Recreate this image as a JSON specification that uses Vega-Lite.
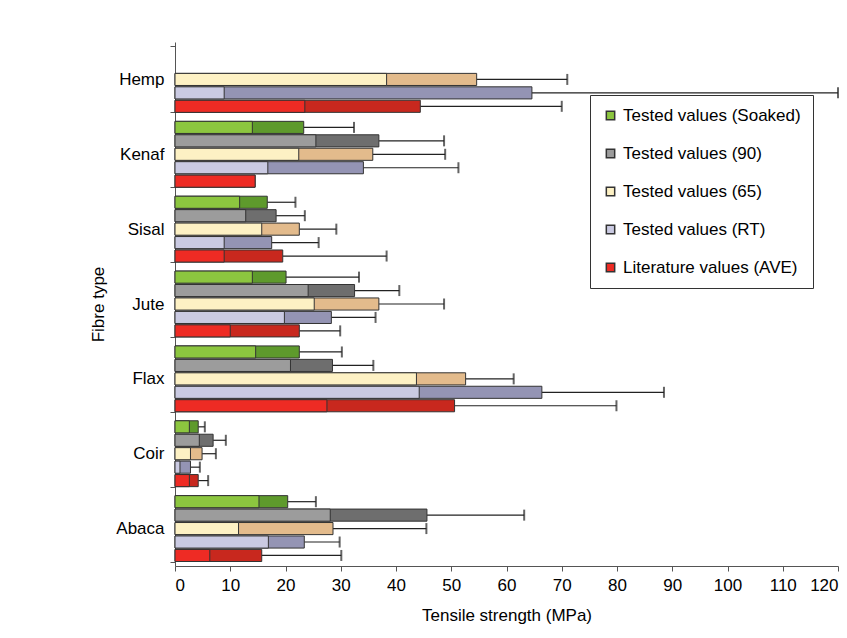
{
  "$schema": "https://vega.github.io/schema/vega-lite/v6.json",
  "width": 663, "height": 524,
  "autosize": "none",
  "padding": {"left": 175, "top": 42, "right": 9, "bottom": 72},
  "background": "white",
  "config": {
    "font": "Liberation Sans",
    "view": {"stroke": null},
    "axis": {"labelFontSize": 17, "titleFontSize": 17, "labelColor": "black", "titleColor": "black", "titleFontWeight": "normal", "domainColor": "#555", "tickColor": "#555", "grid": false}
  },
  "data": {"values": [
    {"fibre": "Hemp", "series": "Tested values (65)", "lo": 38.3, "mean": 54.6, "hi": 71},
    {"fibre": "Hemp", "series": "Tested values (RT)", "lo": 8.9, "mean": 64.6, "hi": 120},
    {"fibre": "Hemp", "series": "Literature values (AVE)", "lo": 23.5, "mean": 44.4, "hi": 70},
    {"fibre": "Kenaf", "series": "Tested values (Soaked)", "lo": 14, "mean": 23.3, "hi": 32.4},
    {"fibre": "Kenaf", "series": "Tested values (90)", "lo": 25.5, "mean": 36.9, "hi": 48.7},
    {"fibre": "Kenaf", "series": "Tested values (65)", "lo": 22.4, "mean": 35.8, "hi": 48.9},
    {"fibre": "Kenaf", "series": "Tested values (RT)", "lo": 16.8, "mean": 34.1, "hi": 51.3},
    {"fibre": "Kenaf", "series": "Literature values (AVE)", "lo": 14.5, "mean": 14.5, "hi": null},
    {"fibre": "Sisal", "series": "Tested values (Soaked)", "lo": 11.7, "mean": 16.7, "hi": 21.8},
    {"fibre": "Sisal", "series": "Tested values (90)", "lo": 12.8, "mean": 18.3, "hi": 23.5},
    {"fibre": "Sisal", "series": "Tested values (65)", "lo": 15.7, "mean": 22.5, "hi": 29.2},
    {"fibre": "Sisal", "series": "Tested values (RT)", "lo": 8.9, "mean": 17.5, "hi": 26},
    {"fibre": "Sisal", "series": "Literature values (AVE)", "lo": 8.9, "mean": 19.5, "hi": 38.3},
    {"fibre": "Jute", "series": "Tested values (Soaked)", "lo": 14, "mean": 20.1, "hi": 33.3},
    {"fibre": "Jute", "series": "Tested values (90)", "lo": 24.1, "mean": 32.5, "hi": 40.6},
    {"fibre": "Jute", "series": "Tested values (65)", "lo": 25.2, "mean": 36.9, "hi": 48.7},
    {"fibre": "Jute", "series": "Tested values (RT)", "lo": 19.8, "mean": 28.3, "hi": 36.3},
    {"fibre": "Jute", "series": "Literature values (AVE)", "lo": 10, "mean": 22.5, "hi": 29.9},
    {"fibre": "Flax", "series": "Tested values (Soaked)", "lo": 14.6, "mean": 22.5, "hi": 30.2},
    {"fibre": "Flax", "series": "Tested values (90)", "lo": 20.9, "mean": 28.5, "hi": 35.9},
    {"fibre": "Flax", "series": "Tested values (65)", "lo": 43.7, "mean": 52.6, "hi": 61.3},
    {"fibre": "Flax", "series": "Tested values (RT)", "lo": 44.2, "mean": 66.4, "hi": 88.5},
    {"fibre": "Flax", "series": "Literature values (AVE)", "lo": 27.5, "mean": 50.6, "hi": 79.9},
    {"fibre": "Coir", "series": "Tested values (Soaked)", "lo": 2.6, "mean": 4.2, "hi": 5.4},
    {"fibre": "Coir", "series": "Tested values (90)", "lo": 4.4, "mean": 6.9, "hi": 9.2},
    {"fibre": "Coir", "series": "Tested values (65)", "lo": 2.8, "mean": 4.9, "hi": 7.4},
    {"fibre": "Coir", "series": "Tested values (RT)", "lo": 0.9, "mean": 2.8, "hi": 4.5},
    {"fibre": "Coir", "series": "Literature values (AVE)", "lo": 2.6, "mean": 4.2, "hi": 6.0},
    {"fibre": "Abaca", "series": "Tested values (Soaked)", "lo": 15.2, "mean": 20.4, "hi": 25.5},
    {"fibre": "Abaca", "series": "Tested values (90)", "lo": 28.1, "mean": 45.6, "hi": 63.2},
    {"fibre": "Abaca", "series": "Tested values (65)", "lo": 11.5, "mean": 28.6, "hi": 45.5},
    {"fibre": "Abaca", "series": "Tested values (RT)", "lo": 16.9, "mean": 23.4, "hi": 29.8},
    {"fibre": "Abaca", "series": "Literature values (AVE)", "lo": 6.3, "mean": 15.7, "hi": 30.1}
  ]},
  "encoding": {
    "y": {"field": "fibre", "type": "nominal", "sort": ["Hemp", "Kenaf", "Sisal", "Jute", "Flax", "Coir", "Abaca"],
      "scale": {"paddingInner": 0.12, "paddingOuter": 0.06},
      "axis": {"title": "Fibre type", "titlePadding": 8, "tickBand": "extent", "labelPadding": 6, "tickSize": 5}},
    "yOffset": {"field": "series", "type": "nominal",
      "sort": ["Tested values (Soaked)", "Tested values (90)", "Tested values (65)", "Tested values (RT)", "Literature values (AVE)"],
      "scale": {"paddingInner": 0.1}}
  },
  "resolve": {"scale": {"fill": "independent"}, "legend": {"fill": "independent"}},
  "layer": [
    {
      "mark": {"type": "rule", "color": "#222", "strokeWidth": 1.2},
      "transform": [{"filter": "datum.hi != null"}],
      "encoding": {"x": {"field": "mean", "type": "quantitative"}, "x2": {"field": "hi"}}
    },
    {
      "mark": {"type": "tick", "color": "#222", "thickness": 2, "size": 11},
      "transform": [{"filter": "datum.hi != null"}],
      "encoding": {"x": {"field": "hi", "type": "quantitative"}}
    },
    {
      "mark": {"type": "bar", "stroke": "#333", "strokeWidth": 1},
      "encoding": {
        "x": {"field": "mean", "type": "quantitative", "scale": {"domain": [0, 120]},
          "axis": {"title": "Tensile strength (MPa)", "values": [0,10,20,30,40,50,60,70,80,90,100,110,120], "titlePadding": 14, "labelPadding": 6}},
        "fill": {"field": "series", "type": "nominal", "legend": null,
          "scale": {"domain": ["Tested values (Soaked)", "Tested values (90)", "Tested values (65)", "Tested values (RT)", "Literature values (AVE)"],
            "range": ["#5e9a2c", "#6e6e6e", "#e3bb8c", "#9494b4", "#c8281e"]}}
      }
    },
    {
      "mark": {"type": "bar", "stroke": "#333", "strokeWidth": 1},
      "encoding": {
        "x": {"field": "lo", "type": "quantitative"},
        "fill": {"field": "series", "type": "nominal",
          "scale": {"domain": ["Tested values (Soaked)", "Tested values (90)", "Tested values (65)", "Tested values (RT)", "Literature values (AVE)"],
            "range": ["#8cc63f", "#9c9c9c", "#fdf1c4", "#cacae2", "#ee2b24"]},
          "legend": {"title": null, "orient": "none", "legendX": 415, "legendY": 53, "labelFontSize": 17, "labelColor": "black",
            "symbolType": "square", "symbolSize": 70, "symbolStrokeColor": "#333", "symbolStrokeWidth": 1.5, "rowPadding": 20,
            "strokeColor": "#333", "padding": 12, "fillColor": "white", "labelLimit": 300}}
      }
    }
  ]
}
